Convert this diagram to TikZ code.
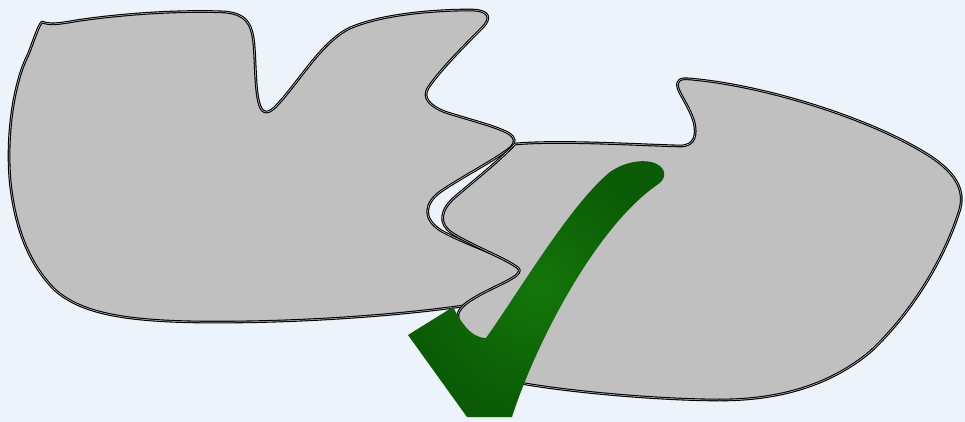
\documentclass[tikz,border=0pt]{standalone}
\begin{document}
\begin{tikzpicture}[x=1pt,y=-1pt,
  piece/.style={fill=shapegray, draw=black, line width=1.1pt, double=white!65!gray, double distance=0.5pt, line join=round},
  tick/.style={inner color=tickin, outer color=tickout}]
\definecolor{bgblue}{RGB}{237,243,251}
\definecolor{shapegray}{RGB}{192,192,192}
\definecolor{tickin}{RGB}{19,118,10}
\definecolor{tickout}{RGB}{11,90,5}
\fill[bgblue] (0,0) rectangle (965,422);
\useasboundingbox (0,0) rectangle (965,422);
% left piece
\path[piece] (42,22)
 .. controls (50,25) and (58,24) .. (75,21)
 .. controls (120,14) and (180,10) .. (225,12)
 .. controls (245,14) and (252,22) .. (254,45)
 .. controls (256,70) and (255,100) .. (262,110)
 .. controls (268,116) and (275,108) .. (285,96)
 .. controls (305,72) and (325,40) .. (350,28)
 .. controls (380,15) and (430,10) .. (470,10)
 .. controls (490,10) and (492,18) .. (482,28)
 .. controls (465,45) and (440,70) .. (428,88)
 .. controls (422,98) and (430,106) .. (445,112)
 .. controls (470,120) and (495,126) .. (508,133)
 .. controls (516,138) and (516,142) .. (510,148)
 .. controls (495,160) and (460,178) .. (440,192)
 .. controls (425,203) and (422,218) .. (440,230)
 .. controls (460,242) and (500,255) .. (515,265)
 .. controls (524,271) and (520,276) .. (505,283)
 .. controls (490,290) and (470,300) .. (463,306)
 .. controls (400,315) and (300,323) .. (200,322)
 .. controls (120,321) and (80,312) .. (55,290)
 .. controls (30,265) and (15,230) .. (10,180)
 .. controls (6,130) and (15,80) .. (28,55)
 .. controls (34,40) and (38,26) .. (42,22) -- cycle;
% right piece
\path[piece] (515,144)
 .. controls (560,140) and (640,145) .. (680,146)
 .. controls (695,146) and (697,135) .. (694,122)
 .. controls (690,108) and (680,95) .. (678,88)
 .. controls (676,80) and (680,78) .. (690,79)
 .. controls (760,85) and (860,115) .. (920,150)
 .. controls (955,170) and (968,190) .. (958,215)
 .. controls (945,255) and (915,310) .. (870,352)
 .. controls (830,385) and (780,400) .. (720,400)
 .. controls (660,400) and (570,392) .. (520,383)
 .. controls (490,378) and (462,340) .. (458,318)
 .. controls (456,308) and (470,300) .. (485,292)
 .. controls (505,282) and (525,274) .. (518,268)
 .. controls (505,258) and (470,245) .. (452,233)
 .. controls (438,224) and (440,210) .. (455,197)
 .. controls (475,180) and (500,160) .. (515,144) -- cycle;
% check mark
\shade[tick] (408,335) -- (453,307)
 .. controls (460,320) and (470,338) .. (486,338)
 .. controls (520,290) and (570,205) .. (610,172)
 .. controls (627,160) and (650,158) .. (660,166)
 .. controls (667,172) and (665,180) .. (657,185)
 .. controls (595,228) and (535,345) .. (512,417)
 -- (467,417) -- cycle;
\end{tikzpicture}
\end{document}
